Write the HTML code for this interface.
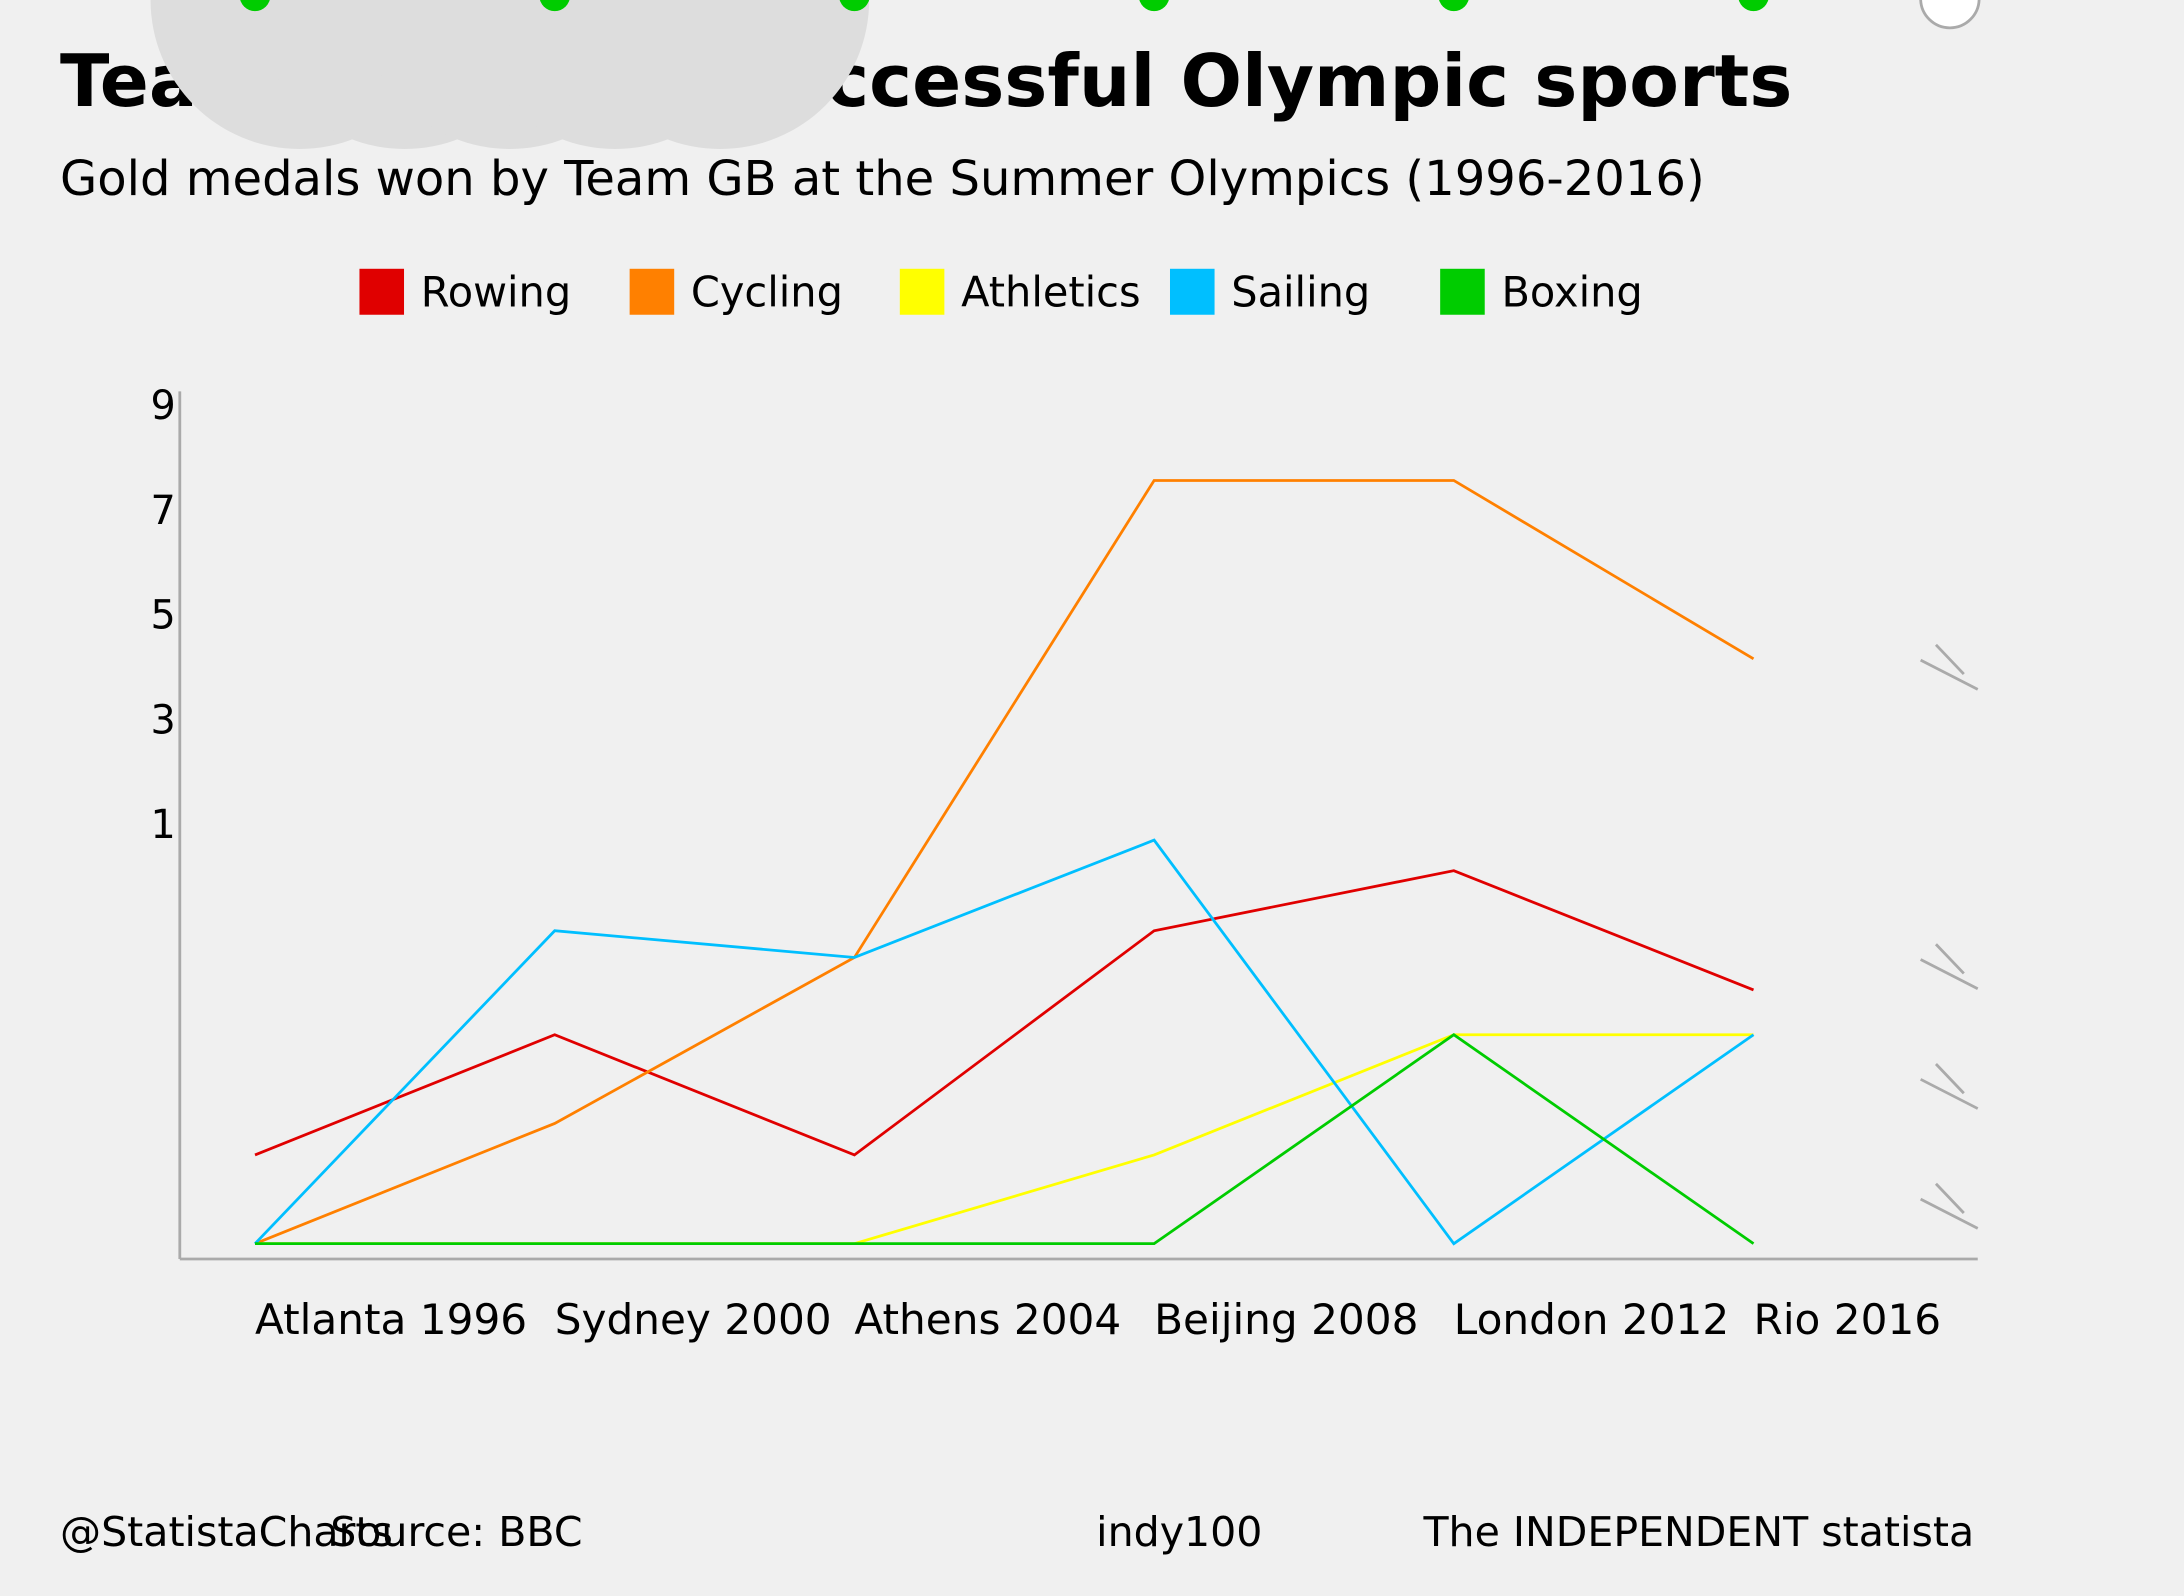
<!DOCTYPE html>
<html><head><meta charset="utf-8"><style>
html,body{margin:0;padding:0;background:#f0f0f0;}
svg{display:block;font-family:"DejaVu Sans","Liberation Sans",sans-serif;}
</style></head><body>
<svg id="chart" width="2184" height="1596" viewBox="0 0 1568 1146" xmlns="http://www.w3.org/2000/svg">
<rect width="1568" height="1146" fill="#f0f0f0"/>
<text x="43" y="76" font-size="52" font-weight="bold" fill="#000">Team GB's most successful Olympic sports</text>
<g id="cloud" fill="#dddddd"></g>
<g id="dots"></g>
<circle cx="1400" cy="-1" r="21" fill="#fff" stroke="#aaa" stroke-width="2"/>
<text x="43" y="140" font-size="34.5" fill="#000">Gold medals won by Team GB at the Summer Olympics (1996-2016)</text>
<g id="legend"></g>
<g id="yticks"></g>
<line x1="129" y1="281" x2="129" y2="904" stroke="#aaa" stroke-width="2"/>
<line x1="129" y1="904" x2="1420" y2="904" stroke="#aaa" stroke-width="2"/>
<g id="breaks"></g>
<g id="series"></g>
<g id="xlabels"></g>
<text x="43" y="1110" font-size="29.5">@StatistaCharts</text>
<text x="237" y="1110" font-size="29.5">Source: BBC</text>
<text x="787" y="1110" font-size="29.5">indy100</text>
<text x="1022" y="1110" font-size="29.5">The INDEPENDENT statista</text>
</svg>
<script>
const categories = ["Atlanta 1996","Sydney 2000","Athens 2004","Beijing 2008","London 2012","Rio 2016"];
const seriesNames = ["Rowing","Cycling","Athletics","Sailing","Boxing"];
const rowing = [0.93, 2.19, 0.93, 3.28, 3.91, 2.66];
const cycling = [0, 1.26, 3.0, 8, 8, 6.13];
const athletics = [0, 0, 0, 0.93, 2.19, 2.19];
const sailing = [0, 3.28, 3.0, 4.23, 0, 2.19];
const boxing = [0, 0, 0, 0, 2.19, 0];
const tickLabels = [9, 7, 5, 3, 1];
const colors = ["#e00000","#ff8000","#ffff00","#00bfff","#00cc00"];
const NS = "http://www.w3.org/2000/svg";
function xScale(i){ return 183 + i * 215.2; }
function yScale(v){ return 893 - v * 68.5; }
function tickY(v){ return 291 + (9 - v) * 37.6; }
function mk(tag, attrs, parent){ const e=document.createElementNS(NS,tag); for(const k in attrs) e.setAttribute(k,attrs[k]); parent.appendChild(e); return e; }

const cloud=document.getElementById('cloud');
for(let i=0;i<5;i++){
  const c=mk('circle',{cx:215+i*75.5,cy:0,r:107},cloud);
  
  
}
const dots=document.getElementById('dots');
categories.forEach((c,i)=>{
  const d=mk('circle',{cx:xScale(i),cy:-3,r:11,fill:'#00cc00'},dots);
  
  
});
const legend=document.getElementById('legend');
seriesNames.forEach((n,i)=>{
  const g=mk('g',{},legend);
  
  
  const x=258+i*194;
  mk('rect',{x:x,y:193,width:32,height:33,fill:colors[i]},g);
  const t=mk('text',{x:x+44,y:220,'font-size':29.8},g); t.textContent=n;
});
const yt=document.getElementById('yticks');
tickLabels.forEach(v=>{
  const t=mk('text',{x:108,y:tickY(v)+10,'font-size':28.5},yt);
  
  
  t.textContent=v;
});
const br=document.getElementById('breaks');
[474,689,775,861].forEach(y=>{
  const g=mk('g',{stroke:'#aaa','stroke-width':2},br);
  
  
  mk('line',{x1:1379,y1:y,x2:1420,y2:y+21},g);
  mk('line',{x1:1390,y1:y-11,x2:1410,y2:y+10},g);
});
const sg=document.getElementById('series');
[rowing,cycling,athletics,sailing,boxing].forEach((arr,si)=>{
  const p=mk('polyline',{points:arr.map((v,i)=>xScale(i)+','+yScale(v)).join(' '),fill:'none',stroke:colors[si],'stroke-width':2},sg);
  
  
});
const xl=document.getElementById('xlabels');
categories.forEach((c,i)=>{
  const t=mk('text',{x:xScale(i),y:958,'font-size':30.3},xl);
  
  
  t.textContent=c;
});
</script>
</body></html>
